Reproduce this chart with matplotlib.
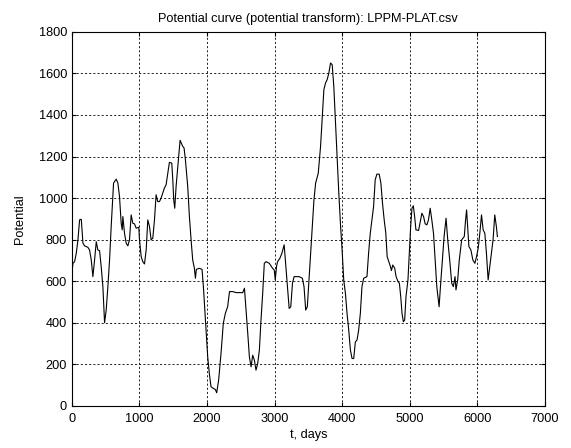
import matplotlib
matplotlib.use("Agg")
import matplotlib.pyplot as plt

# values, 10 per row so the two lists line up
days = [0, 15, 39, 64, 89, 113, 138, 163, 187, 236,
        261, 286, 310, 335, 360, 384, 409, 433, 458, 483,
        507, 532, 557, 581, 616, 655, 680, 704, 729, 744,
        754, 778, 803, 828, 852, 877, 901, 926, 951, 990,
        1000, 1025, 1049, 1074, 1099, 1123, 1148, 1172, 1197, 1222,
        1246, 1271, 1296, 1320, 1345, 1369, 1394, 1419, 1443, 1478,
        1493, 1507, 1522, 1542, 1567, 1601, 1640, 1660, 1680, 1714,
        1739, 1764, 1788, 1813, 1828, 1842, 1887, 1926, 1946, 1970,
        1985, 2010, 2034, 2059, 2094, 2123, 2143, 2172, 2207, 2241,
        2271, 2305, 2333, 2382, 2431, 2529, 2554, 2578, 2603, 2627,
        2652, 2676, 2701, 2725, 2750, 2775, 2799, 2824, 2848, 2873,
        2922, 2971, 2995, 3010, 3029, 3044, 3078, 3108, 3142, 3167,
        3191, 3216, 3240, 3265, 3289, 3363, 3412, 3436, 3461, 3485,
        3510, 3534, 3559, 3583, 3608, 3647, 3681, 3706, 3730, 3755,
        3779, 3804, 3828, 3853, 3877, 3902, 3926, 3951, 3975, 4000,
        4024, 4049, 4073, 4098, 4123, 4147, 4172, 4196, 4221, 4245,
        4270, 4294, 4319, 4368, 4392, 4417, 4441, 4466, 4490, 4515,
        4549, 4574, 4598, 4623, 4647, 4667, 4691, 4716, 4730, 4750,
        4779, 4799, 4828, 4848, 4868, 4887, 4907, 4926, 4946, 4975,
        4995, 5015, 5034, 5054, 5074, 5093, 5132, 5162, 5181, 5206,
        5230, 5255, 5279, 5304, 5328, 5353, 5377, 5402, 5436, 5456,
        5485, 5510, 5539, 5564, 5593, 5623, 5647, 5672, 5686, 5711,
        5735, 5770, 5809, 5828, 5843, 5858, 5877, 5907, 5936, 5966,
        5990, 6015, 6039, 6064, 6088, 6113, 6137, 6162, 6186, 6211,
        6235, 6260, 6284, 6299]
potential = [640, 686, 694, 734, 800, 895, 898, 783, 770, 763,
             750, 702, 622, 702, 790, 750, 747, 670, 574, 400,
             461, 574, 702, 863, 1072, 1091, 1072, 1008, 879, 847,
             911, 831, 783, 770, 799, 919, 879, 876, 855, 860,
             799, 718, 694, 683, 750, 895, 863, 799, 807, 895,
             1016, 983, 983, 1000, 1024, 1048, 1064, 1120, 1172, 1168,
             1088, 991, 951, 1056, 1152, 1278, 1249, 1241, 1184, 1056,
             911, 799, 702, 662, 614, 657, 662, 657, 574, 445,
             365, 236, 156, 92, 84, 79, 63, 124, 252, 397,
             445, 477, 550, 550, 545, 545, 566, 461, 349, 236,
             188, 244, 220, 172, 204, 268, 413, 541, 686, 694,
             686, 662, 654, 606, 670, 694, 710, 734, 775, 670,
             574, 469, 477, 590, 622, 622, 614, 574, 461, 477,
             606, 734, 863, 991, 1072, 1120, 1249, 1393, 1522, 1554,
             1570, 1602, 1650, 1642, 1538, 1361, 1184, 1024, 879, 750,
             606, 541, 445, 365, 268, 228, 228, 308, 317, 365,
             445, 574, 614, 622, 734, 831, 895, 959, 1088, 1115,
             1115, 1072, 975, 895, 831, 718, 694, 670, 651, 678,
             662, 622, 598, 590, 526, 445, 405, 413, 526, 606,
             734, 863, 951, 963, 911, 847, 844, 895, 927, 911,
             876, 871, 895, 951, 895, 831, 702, 574, 477, 574,
             702, 815, 903, 799, 702, 590, 574, 622, 558, 606,
             702, 799, 815, 895, 943, 863, 767, 750, 702, 686,
             718, 759, 831, 919, 847, 831, 734, 606, 670, 734,
             799, 919, 863, 815]

xticks = [0, 1000, 2000, 3000, 4000, 5000, 6000, 7000]
yticks = [0, 200, 400, 600, 800, 1000, 1200, 1400, 1600, 1800]

plt.rcParams['font.family'] = ['Liberation Sans', 'DejaVu Sans']
fs = 9.2

fig = plt.figure(figsize=(5.71, 4.48), dpi=100)
ax = fig.add_axes([0.126, 0.094, 0.828, 0.835])

ax.plot(days, potential, color="black", linewidth=0.8)

ax.set_xlim(0, 7000)
ax.set_ylim(0, 1800)
ax.set_xticks(xticks)
ax.set_yticks(yticks)

# matlab-ish look: dotted grid, ticks inside on every side
ax.grid(True, color="black", linestyle=(0, (2.5, 2.5)), linewidth=0.6)
ax.tick_params(direction="in", top=True, right=True, length=3, labelsize=fs)
ax.tick_params(axis="x", pad=5)
for s in ax.spines.values():
    s.set_linewidth(0.8)

ax.set_title("Potential curve (potential transform): LPPM-PLAT.csv", fontsize=fs, pad=7)
ax.set_xlabel("t, days", fontsize=fs, labelpad=3)
ax.set_ylabel("Potential", fontsize=fs, labelpad=9)

fig.savefig("out.png", dpi=100)
